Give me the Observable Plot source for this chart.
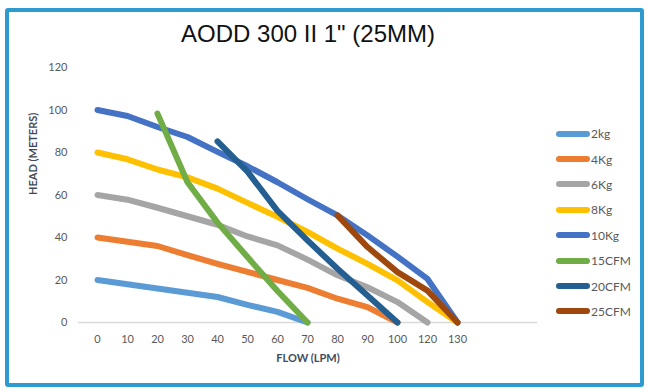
<!DOCTYPE html>
<html>
<head>
<meta charset="utf-8">
<script src="https://cdn.jsdelivr.net/npm/d3@7"></script>
<script src="https://cdn.jsdelivr.net/npm/@observablehq/plot@0.6"></script>
<style>
  html, body { margin: 0; padding: 0; background: #fff; }
  #wrap { position: relative; width: 648px; height: 392px; overflow: hidden; font-family: Lato, "Open Sans", sans-serif; }
  #border { position: absolute; left: 5px; top: 8px; width: 631px; height: 371px; border: 4px solid #2E9BD0; border-radius: 3px; }
  #title { position: absolute; left: 0; width: 616px; top: 20px; text-align: center; font-family: "Liberation Sans", Arial, sans-serif; font-size: 24px; color: #111; }
  #chart { position: absolute; left: 0; top: 0; }
  #legend { position: absolute; left: 556px; top: 121px; }
  .item { height: 25.4px; display: flex; align-items: center; font-size: 12px; color: #595959; }
  .sw { width: 34px; height: 6px; border-radius: 3px; margin-right: 1px; }
</style>
</head>
<body>
<div id="wrap">
  <div id="border"></div>
  <div id="chart"></div>
  <div id="title">AODD 300 II 1" (25MM)</div>
  <div id="legend"></div>
</div>
<script>
const categories = ["0","10","20","30","40","50","60","70","80","90","100","120","130"];
const seriesNames = ["2kg","4Kg","6Kg","8Kg","10Kg","15CFM","20CFM","25CFM"];
const seriesColors = ["#5B9BD5","#ED7D31","#A5A5A5","#FFC000","#4472C4","#70AD47","#255E91","#9E480E"];
const yTicks = [0,20,40,60,80,100,120];

const v2kg   = [20, 18, 16, 14, 12, 8.3, 5, 0, null, null, null, null, null];
const v4kg   = [40, 38, 36, 31.7, 27.6, 23.8, 20, 16.3, 11.2, 7.2, 0, null, null];
const v6kg   = [60, 57.8, 54, 50, 46, 40.5, 36.3, 29.6, 22.2, 16.6, 9.6, 0, null];
const v8kg   = [80, 76.8, 72, 68.3, 63, 56.3, 49.7, 42.6, 34.8, 27.6, 19.8, 9.6, 0];
const v10kg  = [100, 97.2, 92, 87.3, 80.3, 73.5, 66, 58, 50.4, 41, 31, 20.5, 0];
const v15cfm = [null, null, 98.3, 66, 47, 30.8, 14.8, 0, null, null, null, null, null];
const v20cfm = [null, null, null, null, 85.2, 71, 52.5, 38.6, 25.3, 12.7, 0, null, null];
const v25cfm = [null, null, null, null, null, null, null, null, 50.4, 35.5, 23.7, 15, 0];

const allValues = [v2kg, v4kg, v6kg, v8kg, v10kg, v15cfm, v20cfm, v25cfm];

const data = [];
allValues.forEach((vals, si) => {
  vals.forEach((v, i) => {
    if (v !== null) data.push({series: seriesNames[si], flow: categories[i], head: v});
  });
});

const W = 648, H = 392;
const chart = Plot.plot({
  width: W,
  height: H,
  marginLeft: 78,
  marginRight: 111,
  marginTop: 67,
  marginBottom: 70,
  style: {fontFamily: "Lato, 'Open Sans', sans-serif", background: "transparent"},
  x: {type: "point", domain: categories, range: [93, 461], padding: 0},
  y: {domain: [0, 120]},
  color: {domain: seriesNames, range: seriesColors},
  marks: [
    Plot.ruleY([0], {stroke: "#D9D9D9", strokeWidth: 1.5}),
    Plot.axisX({tickSize: 0, tickPadding: 13, fontSize: 11, fill: "#595959", label: null}),
    Plot.axisY(yTicks, {tickSize: 0, tickPadding: 11, fontSize: 11, fill: "#595959", label: null}),
    Plot.text(["FLOW (LPM)"], {frameAnchor: "bottom", dy: 39, fontSize: 11, fontWeight: "bold", fill: "#3F4B5B"}),
    Plot.text(["HEAD (METERS)"], {frameAnchor: "left", dx: -45, rotate: -90, fontSize: 11, fontWeight: "bold", fill: "#3F4B5B"}),
    Plot.line(data, {x: "flow", y: "head", z: "series", stroke: "series", strokeWidth: 6, strokeLinecap: "round", strokeLinejoin: "round"})
  ]
});
document.getElementById("chart").appendChild(chart);

const legend = d3.select("#legend");
seriesNames.forEach((name, i) => {
  const row = legend.append("div").attr("class", "item");
  row.append("div").attr("class", "sw").style("background", seriesColors[i]);
  row.append("span").text(name);
});
</script>
</body>
</html>
